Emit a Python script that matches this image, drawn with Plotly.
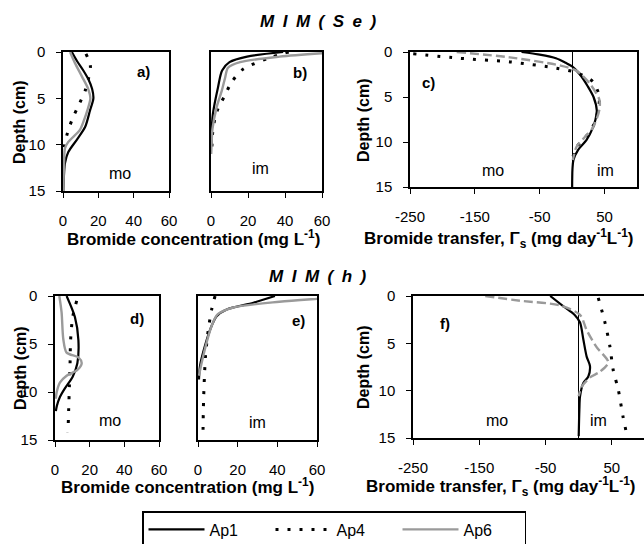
import plotly.graph_objects as go

W, H = 644, 544

# ---------------- DATA ----------------
# Panel a: mobile (mo), MIM(Se) -- bromide concentration (mg/L) vs depth (cm)
a_ap1_depth = [0, 1, 2, 3, 4, 5, 6.3, 8.1, 9.5, 10.8, 12, 13.1, 15]
a_ap1 = [5, 8, 11.5, 14.5, 16.5, 17.2, 15.3, 12.5, 7.7, 3, 1.1, 0.6, 0.2]
a_ap4_depth = [0.2, 1.5, 2.8, 4.2, 5.7, 7, 8.3, 9.7, 10.5]
a_ap4 = [13, 15.5, 14.5, 12.5, 9, 5.8, 3.2, 1.2, 0.5]
a_ap6_depth = [0, 1.2, 2.6, 4, 5, 6.3, 7.3, 8.4, 9.7, 10.4, 12, 15]
a_ap6 = [4, 6.8, 10.6, 14.3, 15.5, 13.8, 12, 9.6, 3, 1.1, 0.6, 0.2]

# Panel b: immobile (im), MIM(Se)
b_ap1_depth = [0, 0.5, 1.1, 2, 3.8, 6.7, 8, 10]
b_ap1 = [39, 19.5, 10, 6, 3.8, 1, 0.5, 0.3]
b_ap4_depth = [0, 0.6, 1.9, 3.3, 4.7, 6, 7.3, 8.9, 10.2]
b_ap4 = [42, 32, 17, 11, 7.5, 4, 2, 0.8, 0.5]
b_ap6_depth = [0.1, 0.5, 1.1, 1.7, 2.8, 4.2, 6, 8.3, 10, 11]
b_ap6 = [62, 37, 15.7, 9.2, 7.6, 5.8, 3, 0.8, 0.3, 0.1]

# Panel c: bromide transfer (mg/day/L), MIM(Se)
c_ap1_depth = [0, 0.3, 0.7, 1.2, 1.6, 2.5, 3.8, 5, 6.5, 7.5, 8.4, 9.8, 10.9, 12, 13, 15]
c_ap1 = [-78, -50, -25, -10, 0, 12, 24, 33, 38, 36, 32, 22, 9, 2, 0.5, 0]
c_ap4_depth = [0.2, 0.7, 1.1, 1.8, 2.3, 3.3, 5, 6.4, 8, 9.8, 10.5, 11.7]
c_ap4 = [-245, -173, -96, -24, 7, 32, 42, 40, 34, 17, 7, 1]
c_ap6_depth = [0, 0.6, 1.5, 2.1, 3.5, 5.3, 6.4, 8.4, 9.5, 10.5, 12]
c_ap6 = [-178, -96, -19, 7, 27, 42, 42, 32, 19, 7, 1]

# Panel d: mobile (mo), MIM(h)
d_ap1_depth = [0, 2.2, 4.6, 7, 8.4, 9.6, 10.5, 11.5, 12]
d_ap1 = [6.7, 11.5, 13.5, 12.9, 10.2, 5.8, 2.9, 1, 0.5]
d_ap4_depth = [0.5, 2.2, 4.6, 7, 9.4, 11.8, 14.2]
d_ap4 = [12.5, 10.2, 9, 8.7, 8.3, 7.9, 7.5]
d_ap6_depth = [0, 1.7, 4.5, 5.9, 6.4, 7, 7.7, 8.3, 9, 10, 10.7]
d_ap6 = [2.5, 3.8, 4.8, 6.7, 13.5, 15.4, 12.9, 6.7, 2.9, 1, 0.5]

# Panel e: immobile (im), MIM(h)
e_ap1_depth = [0, 0.7, 1.4, 2.1, 3.1, 5.2, 7.3, 8.7]
e_ap1 = [38.8, 27.9, 14.5, 9.4, 6.9, 3.5, 1, 0.5]
e_ap4_depth = [0, 1.4, 3.5, 6.2, 8.6, 11, 13, 14.8]
e_ap4 = [8.6, 6.9, 5.2, 3.8, 3.2, 2.8, 2.6, 2.5]
e_ap6_depth = [0.1, 0.3, 0.6, 1.2, 1.9, 3.1, 4.8, 6.9, 8.3]
e_ap6 = [75, 60, 41, 17.8, 10, 6.9, 4.4, 1.9, 0.5]

# Panel f: bromide transfer, MIM(h)
f_ap1_depth = [0, 1.1, 2.0, 2.8, 4.6, 6.4, 7.4, 8.5, 9.2, 10.6, 12, 14.8]
f_ap1 = [-43, -23, -6, 2, 7, 12, 17, 14.5, 7, 2, 1, 0]
f_ap4_depth = [0.2, 2.8, 5.3, 7.8, 9.9, 12.8, 14.5, 15]
f_ap4 = [29.5, 39.6, 47, 52, 59.7, 67, 72, 73]
f_ap6_depth = [0, 0.5, 1.0, 2.0, 3.6, 5.4, 7.0, 8.0, 8.6, 9.6, 10.6]
f_ap6 = [-141, -88.6, -28, 2, 12, 27, 44.6, 32, 17, 4.4, 0]

conc_ticks = [0, 20, 40, 60]
transfer_ticks = [-250, -150, -50, 50]
transfer_ticktext = ["-250", "-150", "-50", "50"]
depth_ticks = [0, 5, 10, 15]
series_names = ["Ap1", "Ap4", "Ap6"]

# ---------------- LAYOUT HELPERS ----------------
FONT = "Liberation Sans, Arial, sans-serif"


def px(x):
    return x / W


def py(y):
    return 1 - y / H


panels = {
    # name: (x0, x1, ytop, ybottom, xrange, xticks, show_yticks)
    "a": (63, 169, 52, 191, [0, 60], conc_ticks, True),
    "b": (211, 322, 52, 191, [0, 60], conc_ticks, False),
    "c": (410, 637, 52, 187, [-250, 100], transfer_ticks, True),
    "d": (55, 159, 296, 440, [0, 60], conc_ticks, True),
    "e": (198, 317, 296, 440, [0, 60], conc_ticks, False),
    "f": (413, 644, 296, 438, [-250, 98.5], transfer_ticks, True),
}

fig = go.Figure()
layout = dict(
    width=W, height=H,
    margin=dict(l=0, r=0, t=0, b=0, autoexpand=False),
    paper_bgcolor="white", plot_bgcolor="white",
    font=dict(family=FONT, color="black", size=15),
    showlegend=True,
)

axis_ids = {}
for i, (name, (x0, x1, yt, yb, xr, xt, showy)) in enumerate(panels.items(), start=1):
    xk = "xaxis" if i == 1 else f"xaxis{i}"
    yk = "yaxis" if i == 1 else f"yaxis{i}"
    xref = "x" if i == 1 else f"x{i}"
    yref = "y" if i == 1 else f"y{i}"
    axis_ids[name] = (xref, yref)
    is_transfer = name in ("c", "f")
    layout[xk] = dict(
        domain=[px(x0), px(x1)], anchor=yref, range=xr,
        tickmode="array", tickvals=xt,
        ticktext=transfer_ticktext if is_transfer else [str(v) for v in xt],
        ticks="outside", ticklen=5,
        tickcolor="black", tickwidth=1.2,
        showline=True, mirror=True, linecolor="black", linewidth=1.5,
        showgrid=False, zeroline=is_transfer, zerolinecolor="black",
        zerolinewidth=1.2, ticklabelstandoff=10, automargin=False,
        tickfont=dict(family=FONT, size=15, color="black"),
    )
    layout[yk] = dict(
        domain=[py(yb), py(yt)], anchor=xref, range=[15, 0],
        tickmode="array", tickvals=depth_ticks,
        ticks="outside" if showy else "", ticklen=5, tickcolor="black", tickwidth=1.2,
        showticklabels=showy,
        showline=True, mirror=True, linecolor="black", linewidth=1.5,
        showgrid=False, zeroline=False, ticklabelstandoff=8, automargin=False,
        tickfont=dict(family=FONT, size=15, color="black"),
    )

BLACK = "black"
GRAY = "#9a9a9a"
ap1_style = dict(color=BLACK, width=2.2, shape="spline", smoothing=0.8)
ap4_style = dict(color=BLACK, width=3, dash="3px,9px", shape="spline", smoothing=0.8)
ap6_solid = dict(color=GRAY, width=2.4, shape="spline", smoothing=0.8)
ap6_dashed = dict(color=GRAY, width=2.4, dash="9px,4px", shape="spline", smoothing=0.8)

panel_series = {
    "a": [(a_ap1, a_ap1_depth, ap1_style), (a_ap4, a_ap4_depth, ap4_style), (a_ap6, a_ap6_depth, ap6_solid)],
    "b": [(b_ap1, b_ap1_depth, ap1_style), (b_ap4, b_ap4_depth, ap4_style), (b_ap6, b_ap6_depth, ap6_solid)],
    "c": [(c_ap1, c_ap1_depth, ap1_style), (c_ap4, c_ap4_depth, ap4_style), (c_ap6, c_ap6_depth, ap6_dashed)],
    "d": [(d_ap1, d_ap1_depth, ap1_style), (d_ap4, d_ap4_depth, ap4_style), (d_ap6, d_ap6_depth, ap6_solid)],
    "e": [(e_ap1, e_ap1_depth, ap1_style), (e_ap4, e_ap4_depth, ap4_style), (e_ap6, e_ap6_depth, ap6_solid)],
    "f": [(f_ap1, f_ap1_depth, ap1_style), (f_ap4, f_ap4_depth, ap4_style), (f_ap6, f_ap6_depth, ap6_dashed)],
}

for name, series in panel_series.items():
    xref, yref = axis_ids[name]
    for k, (xv, yv, st) in enumerate(series):
        fig.add_trace(go.Scatter(
            x=xv, y=yv, mode="lines", line=st, name=series_names[k],
            xaxis=xref, yaxis=yref, showlegend=(name == "a"),
            legendrank=k + 1,
        ))

# ---------------- ANNOTATIONS ----------------
anns = []


def txt(text, x, y, size=15, angle=0, xanchor="center"):
    anns.append(dict(text=text, x=px(x), y=py(y), xref="paper", yref="paper",
                     showarrow=False, xanchor=xanchor, yanchor="middle",
                     textangle=angle, font=dict(family=FONT, size=size, color="black")))


sp = "\u2002"
txt("<b><i>" + sp.join(list("MIM(Se)")) + "</i></b>", 318, 22, size=17)
txt("<b><i>" + sp.join(list("MIM(h)")) + "</i></b>", 318, 276, size=17)

conc_title = "<b>Bromide concentration (mg L<sup>-1</sup>)</b>"
tr_title = "<b>Bromide transfer, \u0393<sub>s</sub> (mg day<sup>-1</sup>L<sup>-1</sup>)</b>"
txt(conc_title, 193, 238, size=17)
txt(tr_title, 498, 238, size=17)
txt(conc_title, 187, 486, size=17)
txt(tr_title, 500, 486, size=17)

for xx, yy in [(20, 122), (363, 120), (20, 368), (363, 367)]:
    txt("<b>Depth (cm)</b>", xx, yy, size=16, angle=-90)

for lab, xx, yy in [("a)", 143, 72), ("b)", 300, 73), ("c)", 428, 82),
                    ("d)", 137, 318), ("e)", 298, 320), ("f)", 445, 323)]:
    txt("<b>" + lab + "</b>", xx, yy, size=15)

for lab, xx, yy in [("mo", 120, 173), ("im", 260, 168), ("mo", 493, 170), ("im", 605, 170),
                    ("mo", 110, 420), ("im", 257, 422), ("mo", 497, 420), ("im", 598, 420)]:
    txt(lab, xx, yy, size=16)

layout["annotations"] = anns
layout["legend"] = dict(
    orientation="h", x=px(142), y=py(511), xanchor="left", yanchor="top",
    xref="paper", yref="paper",
    bordercolor="black", borderwidth=1.5, bgcolor="white",
    font=dict(family=FONT, size=16, color="black"),
    itemwidth=56, entrywidth=56, entrywidthmode="pixels",
    traceorder="normal", tracegroupgap=0,
)

fig.update_layout(**layout)
fig.write_html("out.html")
